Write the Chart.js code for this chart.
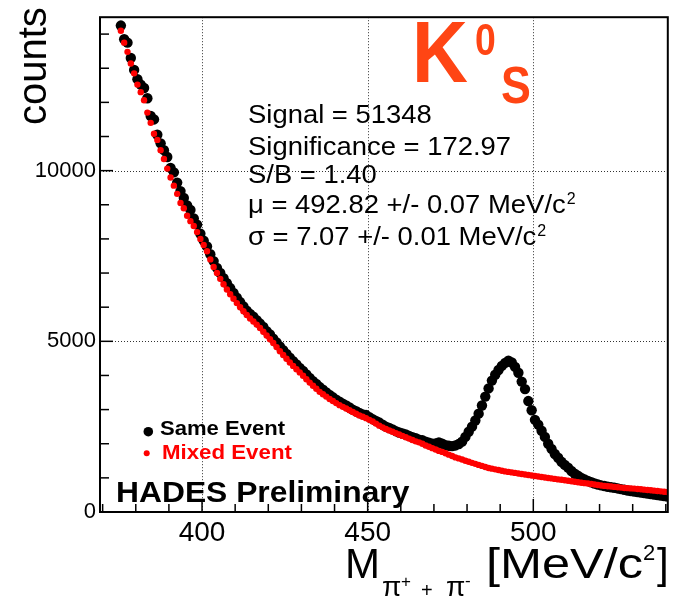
<!DOCTYPE html>
<html>
<head>
<meta charset="utf-8">
<script src="https://cdn.jsdelivr.net/npm/chart.js@4"></script>
<style>
  body { margin: 0; background: #fff; }
  canvas { display: block; }
</style>
</head>
<body>
<canvas id="chart" width="673" height="597"></canvas>
<script>
// Histogram binning (1 MeV bins, first bin centre)
const binStart = 375.5;
const binWidth = 1;

// Same event counts per bin
const sameEvent = [
  14250, 13850, 13750, 13300, 12950, 12680, 12520, 12420, 12120, 11600,
  11500, 11050, 10800, 10600, 10400, 10080, 9950, 9650, 9400, 9200,
  8980, 8850, 8600, 8420, 8150, 7950, 7780, 7550, 7350, 7150,
  7000, 6850, 6700, 6560, 6420, 6280, 6150, 6020, 5900, 5800,
  5720, 5620, 5520, 5420, 5300, 5200, 5080, 4970, 4850, 4740,
  4630, 4520, 4420, 4320, 4220, 4130, 4030, 3930, 3830, 3750,
  3660, 3580, 3500, 3430, 3360, 3290, 3230, 3170, 3120, 3060,
  3000, 2950, 2900, 2860, 2840, 2780, 2720, 2670, 2620, 2560,
  2500, 2460, 2420, 2370, 2330, 2300, 2270, 2230, 2190, 2160,
  2120, 2100, 2060, 2030, 2000, 2010, 2040, 2000, 1960, 1940,
  1930, 1950, 1990, 2060, 2200, 2350, 2500, 2680, 2880, 3120,
  3380, 3620, 3850, 4020, 4160, 4280, 4370, 4430, 4380, 4250,
  4080, 3820, 3600, 3250, 2980, 2700, 2560, 2380, 2200, 2000,
  1850, 1700, 1590, 1470, 1380, 1300, 1200, 1120, 1060, 1000,
  950, 910, 870, 835, 805, 780, 760, 740, 725, 710,
  690, 670, 650, 630, 615, 600, 585, 570, 555, 540,
  525, 510, 495, 480, 465, 450
];

// Mixed event counts per bin
const mixedEvent = [
  14100, 13750, 13480, 13140, 12850, 12520, 12300, 12060, 11700, 11400,
  11080, 10900, 10600, 10340, 10060, 9800, 9560, 9320, 9050, 8900,
  8680, 8520, 8380, 8200, 8000, 7820, 7640, 7400, 7180, 7000,
  6830, 6670, 6520, 6380, 6250, 6120, 6000, 5880, 5770, 5670,
  5580, 5490, 5390, 5280, 5170, 5060, 4950, 4830, 4710, 4600,
  4490, 4380, 4280, 4180, 4090, 3990, 3890, 3790, 3700, 3610,
  3520, 3450, 3380, 3310, 3250, 3190, 3130, 3080, 3030, 2980,
  2930, 2880, 2830, 2790, 2750, 2700, 2650, 2590, 2530, 2480,
  2430, 2390, 2350, 2310, 2270, 2230, 2190, 2150, 2110, 2070,
  2040, 2000, 1950, 1910, 1870, 1830, 1790, 1760, 1720, 1680,
  1640, 1600, 1570, 1540, 1500, 1470, 1440, 1410, 1380, 1350,
  1320, 1290, 1270, 1250, 1230, 1210, 1190, 1175, 1160, 1145,
  1130, 1115, 1100, 1085, 1070, 1055, 1040, 1025, 1010, 995,
  985, 970, 955, 945, 930, 915, 900, 885, 870, 855,
  845, 835, 820, 805, 790, 775, 765, 755, 745, 735,
  725, 715, 705, 698, 692, 685, 675, 665, 655, 645,
  635, 625, 615, 605, 595, 585
];

// Axis ticks
const xTicks = [370, 380, 390, 400, 410, 420, 430, 440, 450, 460, 470, 480, 490, 500, 510, 520, 530, 540];
const xMajor = [400, 450, 500];
const yTicks = [0, 1000, 2000, 3000, 4000, 5000, 6000, 7000, 8000, 9000, 10000, 11000, 12000, 13000, 14000];
const yMajor = [0, 5000, 10000];

// Labels
const seriesNames = ['Same Event', 'Mixed Event'];
const statLines = ['Signal = 51348', 'Significance = 172.97', 'S/B = 1.40',
  '\u03bc = 492.82 +/- 0.07 MeV/c', '\u03c3 = 7.07 +/- 0.01 MeV/c'];
const yTitle = 'counts';
const stamp = 'HADES Preliminary';

const FONT = '"Liberation Sans", Arial, Helvetica, sans-serif';
Chart.defaults.font.family = FONT;

function toPoints(values) {
  return values.map((v, i) => ({ x: binStart + i * binWidth, y: v }));
}

function txt(ctx, s, x, y, font, color, sx) {
  ctx.save();
  ctx.font = font;
  ctx.fillStyle = color;
  ctx.textAlign = 'left';
  ctx.textBaseline = 'alphabetic';
  ctx.translate(x, y);
  ctx.scale(sx || 1, 1);
  ctx.fillText(s, 0, 0);
  const w = ctx.measureText(s).width * (sx || 1);
  ctx.restore();
  return w;
}

// squeeze/stretch a string so it spans a given width
function fitTxt(ctx, s, x, y, font, color, width) {
  ctx.save();
  ctx.font = font;
  const w = ctx.measureText(s).width;
  ctx.restore();
  return txt(ctx, s, x, y, font, color, width / w);
}

// grid, frame, ticks and all the ROOT-style annotations
const decor = {
  id: 'decor',
  beforeDatasetsDraw(chart) {
    const ctx = chart.ctx, a = chart.chartArea;
    const xs = chart.scales.x, ys = chart.scales.y;
    ctx.save();
    ctx.strokeStyle = '#333';
    ctx.lineWidth = 1;
    ctx.setLineDash([1, 2]);
    xMajor.forEach(v => {
      const px = Math.round(xs.getPixelForValue(v)) + 0.5;
      ctx.beginPath(); ctx.moveTo(px, a.top); ctx.lineTo(px, a.bottom); ctx.stroke();
    });
    yMajor.slice(1).forEach(v => {
      const py = Math.round(ys.getPixelForValue(v)) + 0.5;
      ctx.beginPath(); ctx.moveTo(a.left, py); ctx.lineTo(a.right, py); ctx.stroke();
    });
    ctx.restore();
  },
  afterDraw(chart) {
    const ctx = chart.ctx, a = chart.chartArea;
    const xs = chart.scales.x, ys = chart.scales.y;
    ctx.save();
    // frame
    ctx.strokeStyle = '#000';
    ctx.lineWidth = 2;
    ctx.strokeRect(a.left, a.top, a.right - a.left, a.bottom - a.top);
    // inward tick marks
    ctx.lineWidth = 1.5;
    xTicks.forEach(v => {
      const px = xs.getPixelForValue(v);
      const len = xMajor.includes(v) ? 13 : 8;
      ctx.beginPath(); ctx.moveTo(px, a.bottom); ctx.lineTo(px, a.bottom - len); ctx.stroke();
    });
    yTicks.forEach(v => {
      const py = ys.getPixelForValue(v);
      const len = yMajor.includes(v) ? 13 : 9;
      ctx.beginPath(); ctx.moveTo(a.left, py); ctx.lineTo(a.left + len, py); ctx.stroke();
    });
    ctx.restore();

    // y title
    ctx.save();
    ctx.translate(46, 125);
    ctx.rotate(-Math.PI / 2);
    txt(ctx, yTitle, 0, 0, '40px ' + FONT, '#000');
    ctx.restore();

    // x title: M_{pi+ + pi-} [MeV/c^2]
    txt(ctx, 'M', 345, 578, '42px ' + FONT, '#000');
    txt(ctx, '\u03c0', 382, 596, '28px ' + FONT, '#000');
    txt(ctx, '+', 401, 587, '17px ' + FONT, '#000');
    txt(ctx, '+', 421, 597, '20px ' + FONT, '#000');
    txt(ctx, '\u03c0', 446, 596, '28px ' + FONT, '#000');
    txt(ctx, '-', 465, 586, '17px ' + FONT, '#000');
    fitTxt(ctx, '[MeV/c', 486, 578, '42px ' + FONT, '#000', 157);
    txt(ctx, '2', 643, 560, '22px ' + FONT, '#000');
    txt(ctx, ']', 657, 578, '42px ' + FONT, '#000');

    // K0s label
    const kc = '#ff4514';
    txt(ctx, 'K', 412, 82, 'bold 88px ' + FONT, kc, 0.88);
    txt(ctx, '0', 475, 55, 'bold 44px ' + FONT, kc, 0.85);
    txt(ctx, 'S', 501, 103, 'bold 52px ' + FONT, kc, 0.86);

    // fit results
    const base = [123.3, 155, 183.3, 213.3, 245];
    statLines.forEach((s, i) => {
      const w = txt(ctx, s, 248, base[i], '26px ' + FONT, '#000', 1.055);
      if (i >= 3) txt(ctx, '2', 248 + w + 1, base[i] - 9, '16px ' + FONT, '#000');
    });

    // legend
    ctx.save();
    ctx.fillStyle = '#000';
    ctx.beginPath(); ctx.arc(148.3, 431.7, 4.8, 0, Math.PI * 2); ctx.fill();
    ctx.fillStyle = '#ff0000';
    ctx.beginPath(); ctx.arc(146.7, 453.3, 3, 0, Math.PI * 2); ctx.fill();
    ctx.restore();
    txt(ctx, seriesNames[0], 160, 435, 'bold 21px ' + FONT, '#000', 1.05);
    txt(ctx, seriesNames[1], 162, 459, 'bold 21px ' + FONT, '#ff0000', 1.06);

    // stamp
    txt(ctx, stamp, 116, 501.7, 'bold 30px ' + FONT, '#000', 1.06);
  }
};

new Chart(document.getElementById('chart'), {
  type: 'scatter',
  data: {
    datasets: [
      {
        label: seriesNames[1],
        data: toPoints(mixedEvent),
        pointRadius: 3.2,
        pointBorderWidth: 0,
        pointBackgroundColor: '#ff0000',
        pointHoverRadius: 0,
        order: 0
      },
      {
        label: seriesNames[0],
        data: toPoints(sameEvent),
        pointRadius: 5.2,
        pointBorderWidth: 0,
        pointBackgroundColor: '#000000',
        pointHoverRadius: 0,
        order: 1
      }
    ]
  },
  options: {
    responsive: false,
    animation: false,
    devicePixelRatio: 1,
    events: [],
    layout: { padding: { left: 0, top: 8, right: 4, bottom: 0 } },
    plugins: { legend: { display: false }, tooltip: { enabled: false } },
    scales: {
      x: {
        type: 'linear',
        min: 369.2,
        max: 540.6,
        afterBuildTicks: s => { s.ticks = xTicks.map(v => ({ value: v })); },
        afterFit: s => { s.height = 85; },
        grid: { display: false, drawTicks: false },
        border: { display: false },
        ticks: {
          autoSkip: false,
          maxRotation: 0,
          padding: 4,
          color: '#000',
          font: { size: 28 },
          callback: v => xMajor.includes(v) ? String(v) : ''
        }
      },
      y: {
        type: 'linear',
        min: 0,
        max: 14495,
        afterBuildTicks: s => { s.ticks = yTicks.map(v => ({ value: v })); },
        afterFit: s => { s.width = 100; },
        grid: { display: false, drawTicks: false },
        border: { display: false },
        ticks: {
          autoSkip: false,
          padding: 4,
          color: '#000',
          font: { size: 22 },
          callback: v => yMajor.includes(v) ? String(v) : ''
        }
      }
    }
  },
  plugins: [decor]
});
</script>
</body>
</html>
